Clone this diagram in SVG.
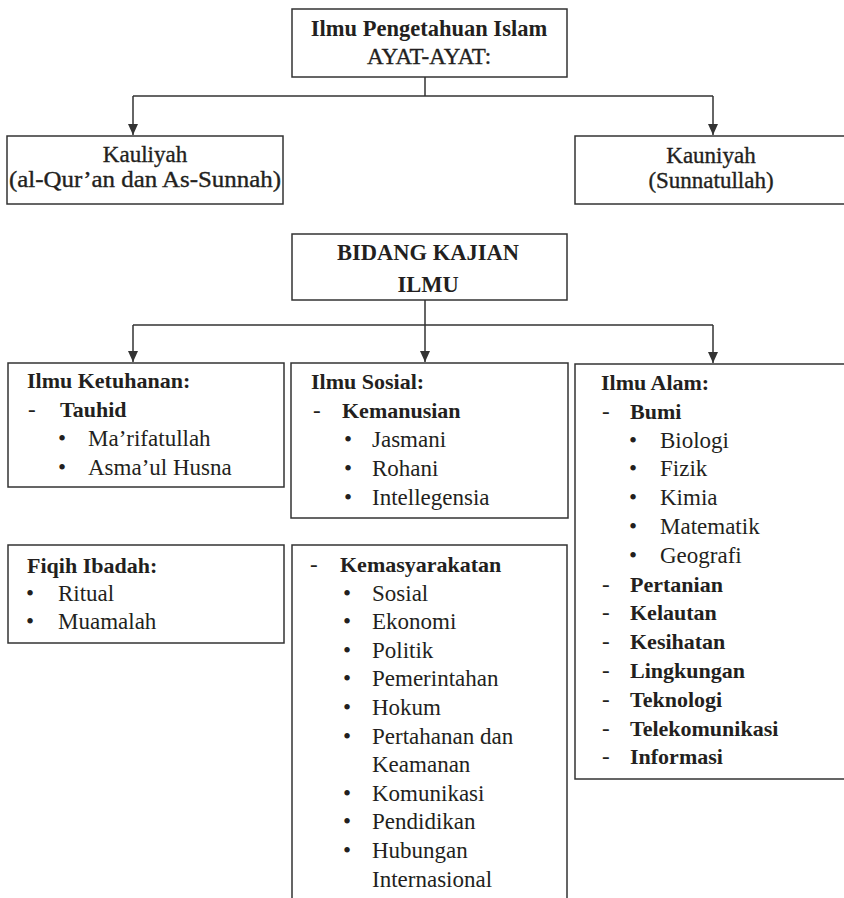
<svg xmlns="http://www.w3.org/2000/svg" width="844" height="898" viewBox="0 0 844 898">
<style>
.box{fill:#fff;stroke:#333;stroke-width:1.5}
.ln{fill:none;stroke:#333;stroke-width:1.5}
text{font-family:"Liberation Serif","DejaVu Serif",serif;fill:#231f20}
.t{font-size:22.5px;font-weight:bold}
.k{font-size:23px;stroke:#231f20;stroke-width:0.35}
.h{font-size:22px;font-weight:bold}
.r{font-size:23px}
.c{text-anchor:middle}
</style>
<defs>
<marker id="ah" markerWidth="11" markerHeight="10" refX="11" refY="5" orient="auto" markerUnits="userSpaceOnUse" viewBox="0 0 11 10">
<path d="M0,0 L11,5 L0,10 Z" fill="#333"/>
</marker>
</defs>
<rect width="844" height="898" fill="#fff"/>
<g id="connectors">
<path class="ln" d="M425,77 V96 M133,96 H713"/>
<path class="ln" d="M133,96 V135" marker-end="url(#ah)"/>
<path class="ln" d="M713,96 V135" marker-end="url(#ah)"/>
<path class="ln" d="M425,300 V325 M133,325 H713"/>
<path class="ln" d="M133,325 V362" marker-end="url(#ah)"/>
<path class="ln" d="M425,325 V362" marker-end="url(#ah)"/>
<path class="ln" d="M713,325 V363" marker-end="url(#ah)"/>
</g>
<g id="n-top">
<rect class="box" x="292" y="9" width="275" height="68"/>
<text class="t c" x="429" y="36">Ilmu Pengetahuan Islam</text>
<text class="k c" x="429" y="64">AYAT-AYAT:</text>
</g>
<g id="n-kauliyah">
<rect class="box" x="7" y="136" width="276" height="68"/>
<text class="k c" x="145" y="162">Kauliyah</text>
<text class="k c" x="145" y="187" textLength="272" lengthAdjust="spacingAndGlyphs">(al-Qur’an dan As-Sunnah)</text>
</g>
<g id="n-kauniyah">
<rect class="box" x="575" y="136" width="290" height="68"/>
<text class="k c" x="711" y="163">Kauniyah</text>
<text class="k c" x="711" y="188">(Sunnatullah)</text>
</g>
<g id="n-bidang">
<rect class="box" x="292" y="234" width="275" height="66"/>
<text class="t c" x="428" y="260">BIDANG KAJIAN</text>
<text class="t c" x="428" y="292">ILMU</text>
</g>
<g id="n-ketuhanan">
<rect class="box" x="8" y="363" width="276" height="124"/>
<text class="h" x="27" y="388">Ilmu Ketuhanan:</text>
<text class="r" x="28" y="417">-</text><text class="h" x="60" y="417">Tauhid</text>
<text class="r" x="58" y="446">•</text><text class="r" x="88" y="446">Ma’rifatullah</text>
<text class="r" x="58" y="475">•</text><text class="r" x="88" y="475">Asma’ul Husna</text>
</g>
<g id="n-fiqih">
<rect class="box" x="8" y="545" width="276" height="98"/>
<text class="h" x="27" y="573">Fiqih Ibadah:</text>
<text class="r" x="26" y="601">•</text><text class="r" x="58" y="601">Ritual</text>
<text class="r" x="26" y="629">•</text><text class="r" x="58" y="629">Muamalah</text>
</g>
<g id="n-sosial">
<rect class="box" x="291" y="363" width="277" height="155"/>
<text class="h" x="311" y="389">Ilmu Sosial:</text>
<text class="r" x="313" y="418">-</text><text class="h" x="342" y="418">Kemanusian</text>
<text class="r" x="344" y="447">•</text><text class="r" x="372" y="447">Jasmani</text>
<text class="r" x="344" y="476">•</text><text class="r" x="372" y="476">Rohani</text>
<text class="r" x="344" y="505">•</text><text class="r" x="372" y="505">Intellegensia</text>
</g>
<g id="n-masyarakat">
<rect class="box" x="292" y="545" width="275" height="380"/>
<text class="r" x="310" y="572">-</text><text class="h" x="340" y="572">Kemasyarakatan</text>
<text class="r" x="343" y="600.6">•</text><text class="r" x="372" y="600.6">Sosial</text>
<text class="r" x="343" y="629.2">•</text><text class="r" x="372" y="629.2">Ekonomi</text>
<text class="r" x="343" y="657.8">•</text><text class="r" x="372" y="657.8">Politik</text>
<text class="r" x="343" y="686.4">•</text><text class="r" x="372" y="686.4">Pemerintahan</text>
<text class="r" x="343" y="715">•</text><text class="r" x="372" y="715">Hokum</text>
<text class="r" x="343" y="743.6">•</text><text class="r" x="372" y="743.6">Pertahanan dan</text>
<text class="r" x="372" y="772.2">Keamanan</text>
<text class="r" x="343" y="800.8">•</text><text class="r" x="372" y="800.8">Komunikasi</text>
<text class="r" x="343" y="829.4">•</text><text class="r" x="372" y="829.4">Pendidikan</text>
<text class="r" x="343" y="858">•</text><text class="r" x="372" y="858">Hubungan</text>
<text class="r" x="372" y="886.6">Internasional</text>
</g>
<g id="n-alam">
<rect class="box" x="575" y="364" width="290" height="415"/>
<text class="h" x="601" y="390">Ilmu Alam:</text>
<text class="r" x="602" y="418.8">-</text><text class="h" x="630" y="418.8">Bumi</text>
<text class="r" x="629" y="447.6">•</text><text class="r" x="660" y="447.6">Biologi</text>
<text class="r" x="629" y="476.4">•</text><text class="r" x="660" y="476.4">Fizik</text>
<text class="r" x="629" y="505.2">•</text><text class="r" x="660" y="505.2">Kimia</text>
<text class="r" x="629" y="534">•</text><text class="r" x="660" y="534">Matematik</text>
<text class="r" x="629" y="562.8">•</text><text class="r" x="660" y="562.8">Geografi</text>
<text class="r" x="602" y="591.6">-</text><text class="h" x="630" y="591.6">Pertanian</text>
<text class="r" x="602" y="620.4">-</text><text class="h" x="630" y="620.4">Kelautan</text>
<text class="r" x="602" y="649.2">-</text><text class="h" x="630" y="649.2">Kesihatan</text>
<text class="r" x="602" y="678">-</text><text class="h" x="630" y="678">Lingkungan</text>
<text class="r" x="602" y="706.8">-</text><text class="h" x="630" y="706.8">Teknologi</text>
<text class="r" x="602" y="735.6">-</text><text class="h" x="630" y="735.6">Telekomunikasi</text>
<text class="r" x="602" y="764.4">-</text><text class="h" x="630" y="764.4">Informasi</text>
</g>
</svg>
